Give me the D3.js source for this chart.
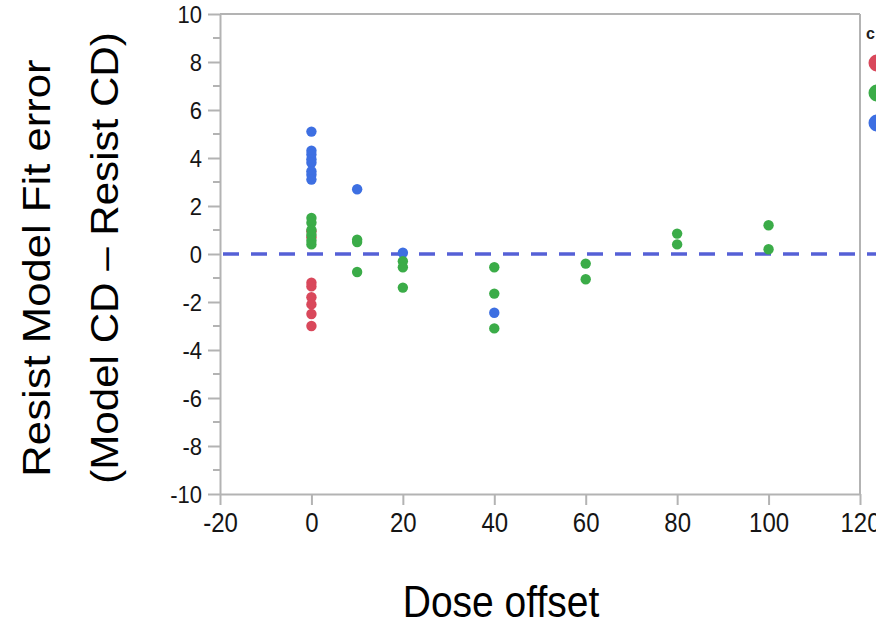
<!DOCTYPE html>
<html>
<head>
<meta charset="utf-8">
<script src="https://cdn.jsdelivr.net/npm/d3@7"></script>
<style>
  html, body { margin: 0; padding: 0; background: #fff; overflow: hidden; }
  svg { display: block; }
  text { font-family: "Liberation Sans", Arial, sans-serif; }
</style>
</head>
<body>
<svg id="chart" width="876" height="629"></svg>
<script>
// ---- Data ----
const xTicks = [-20, 0, 20, 40, 60, 80, 100, 120];
const yTicks = [-10, -8, -6, -4, -2, 0, 2, 4, 6, 8, 10];
const yMinorTicks = [-9, -7, -5, -3, -1, 1, 3, 5, 7, 9];

const blueDose = [0, 0, 0, 0, 0, 0, 0, 0, 10, 20, 40];
const blueErr  = [5.1, 4.3, 4.15, 3.95, 3.8, 3.45, 3.3, 3.1, 2.7, 0.05, -2.45];

const redDose = [0, 0, 0, 0, 0, 0, 0, 0];
const redErr  = [0.95, 0.7, -1.2, -1.35, -1.8, -2.1, -2.5, -3.0];

const greenDose = [0, 0, 0, 0, 0, 0, 10, 10, 10, 20, 20, 20, 40, 40, 40, 60, 60, 80, 80, 100, 100];
const greenErr  = [1.5, 1.3, 1.0, 0.8, 0.55, 0.4, 0.6, 0.5, -0.75, -0.3, -0.55, -1.4, -0.55, -1.65, -3.1, -0.4, -1.05, 0.85, 0.4, 1.2, 0.2];

const legendTitle = "c";
const seriesNames = ["red", "green", "blue"];
const seriesColors = { red: "#d9485b", green: "#3bac48", blue: "#3d6fe2" };

const xTitle = "Dose offset";
const yTitle1 = "Resist Model Fit error";
const yTitle2 = "(Model CD \u2013 Resist CD)";

// ---- Layout ----
const svg = d3.select("#chart");
const pLeft = 220, pRight = 860, pTop = 14, pBottom = 494;
const x = d3.scaleLinear().domain([-20, 120]).range([pLeft, pRight]);
const y = d3.scaleLinear().domain([-10, 10]).range([pBottom, pTop]);
const axisColor = "#b3b3b3";
const labelColor = "#151515";

// Frame (top and right borders)
svg.append("line").attr("x1", pLeft).attr("x2", pRight).attr("y1", pTop).attr("y2", pTop)
  .attr("stroke", axisColor).attr("stroke-width", 2);
svg.append("line").attr("x1", pRight).attr("x2", pRight).attr("y1", pTop).attr("y2", pBottom)
  .attr("stroke", axisColor).attr("stroke-width", 2);

// Y axis
const yAxis = svg.append("g").attr("transform", `translate(${pLeft},0)`)
  .call(d3.axisLeft(y).tickValues(yTicks).tickSize(12).tickSizeOuter(0).tickFormat(d3.format("d")));
yAxis.select(".domain").attr("stroke", axisColor).attr("stroke-width", 2);
yAxis.selectAll(".tick line").attr("stroke", axisColor).attr("stroke-width", 2);
yAxis.selectAll(".tick text").remove();
yAxis.selectAll(".tick").append("text")
  .attr("transform", "translate(-18,8) scale(1,1.06)")
  .attr("text-anchor", "end").attr("fill", labelColor)
  .style("font-size", "22px")
  .text(d => d);
svg.append("g").selectAll("line").data(yMinorTicks).join("line")
  .attr("x1", pLeft - 7).attr("x2", pLeft).attr("y1", d => y(d)).attr("y2", d => y(d))
  .attr("stroke", axisColor).attr("stroke-width", 2);

// X axis
const xAxis = svg.append("g").attr("transform", `translate(0,${pBottom})`)
  .call(d3.axisBottom(x).tickValues(xTicks).tickSize(11).tickSizeOuter(0).tickFormat(d3.format("d")));
xAxis.select(".domain").attr("stroke", axisColor).attr("stroke-width", 2);
xAxis.selectAll(".tick line").attr("stroke", axisColor).attr("stroke-width", 2);
xAxis.selectAll(".tick text").remove();
xAxis.selectAll(".tick").append("text")
  .attr("transform", "translate(0,38) scale(1,1.12)")
  .attr("text-anchor", "middle").attr("fill", labelColor)
  .style("font-size", "24px")
  .text(d => d);

// Zero reference line (dashed)
svg.append("line")
  .attr("x1", x(-20) + 3).attr("x2", 876)
  .attr("y1", y(0)).attr("y2", y(0))
  .attr("stroke", "#5560d6").attr("stroke-width", 3.5)
  .attr("stroke-dasharray", "16,12");

// Points: blue, then red, then green on top
function drawSeries(doses, errs, color) {
  svg.append("g").selectAll("circle").data(doses.map((d, i) => [d, errs[i]])).join("circle")
    .attr("cx", d => x(d[0])).attr("cy", d => y(d[1])).attr("r", 5.2)
    .attr("fill", color);
}
drawSeries(blueDose, blueErr, seriesColors.blue);
drawSeries(redDose, redErr, seriesColors.red);
drawSeries(greenDose, greenErr, seriesColors.green);

// Legend (clipped at the right edge, as in the reference)
svg.append("text").attr("x", 866).attr("y", 39)
  .attr("fill", "#1e1e1e").style("font-size", "16px").style("font-weight", "bold")
  .text(legendTitle);
svg.append("g").selectAll("circle").data(seriesNames).join("circle")
  .attr("cx", 877).attr("cy", (d, i) => 63 + i * 30).attr("r", 8.5)
  .attr("fill", d => seriesColors[d]);

// Axis titles
svg.append("text")
  .attr("transform", "translate(501,617) scale(1,1.13)")
  .attr("text-anchor", "middle").attr("fill", "#000")
  .style("font-size", "39px")
  .text(xTitle);
svg.append("text")
  .attr("transform", "translate(50,268) rotate(-90) scale(1.12,1)")
  .attr("text-anchor", "middle").attr("fill", "#000")
  .style("font-size", "39px")
  .text(yTitle1);
svg.append("text")
  .attr("transform", "translate(118,258) rotate(-90) scale(1.08,1)")
  .attr("text-anchor", "middle").attr("fill", "#000")
  .style("font-size", "39px")
  .text(yTitle2);
</script>
</body>
</html>
